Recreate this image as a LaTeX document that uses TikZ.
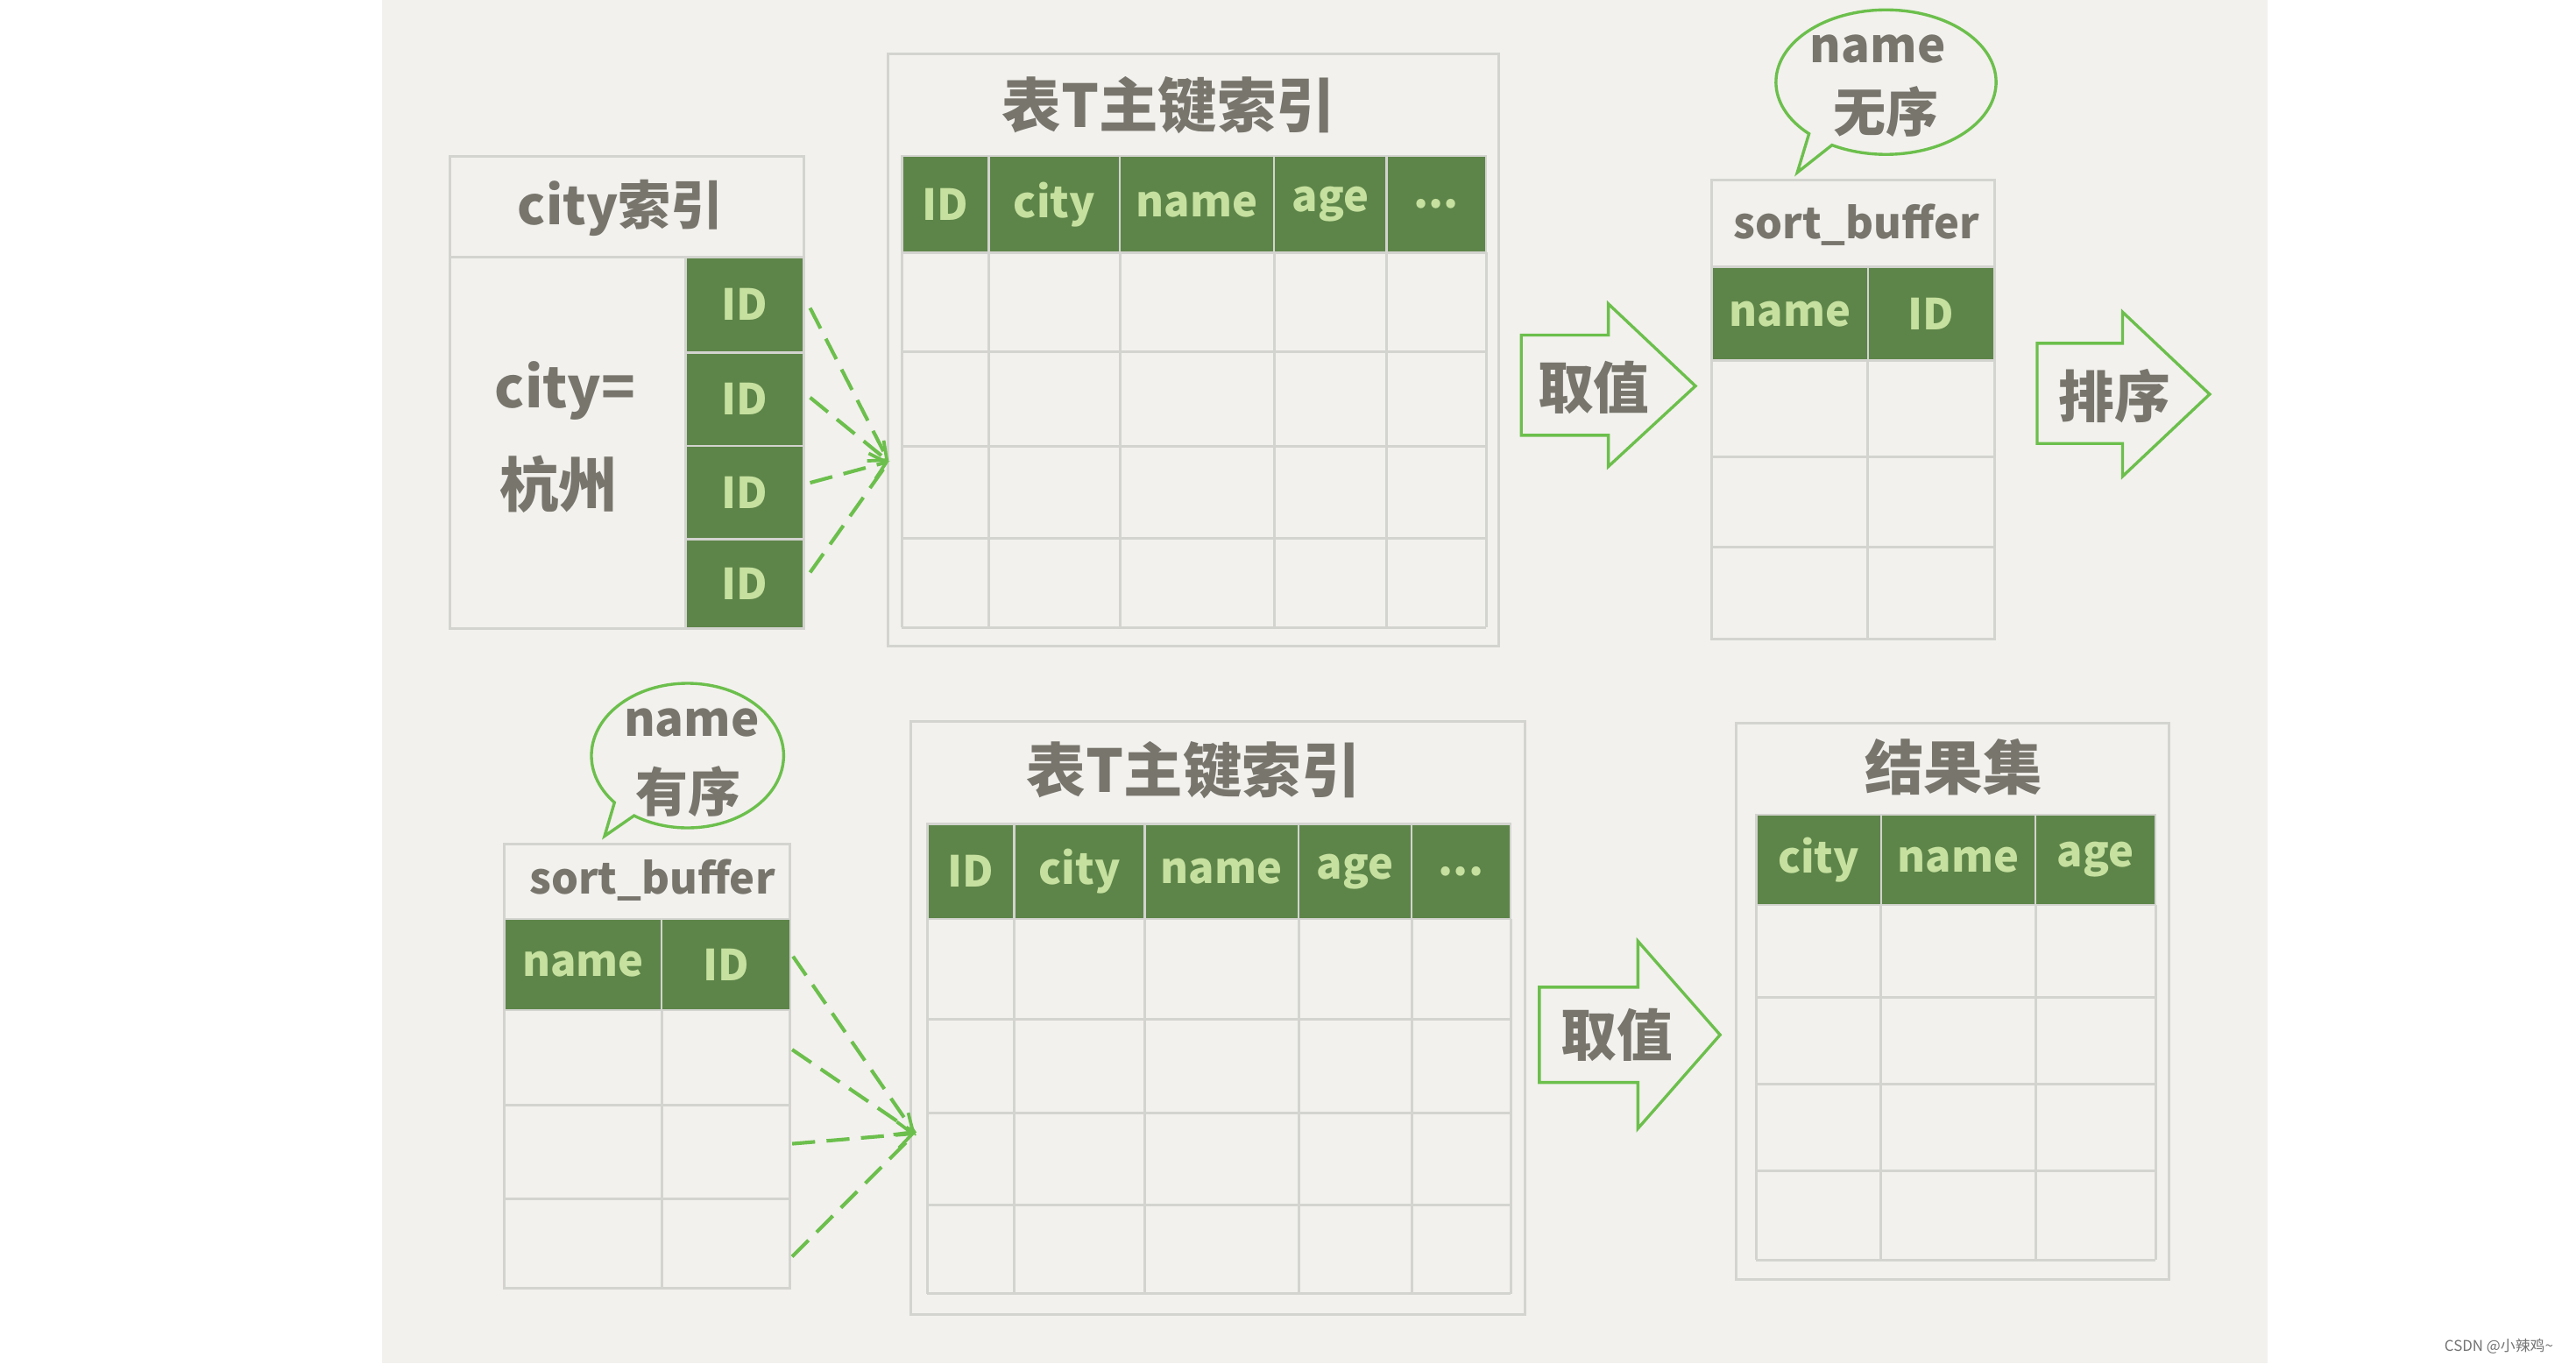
\documentclass[tikz,border=0pt]{standalone}
\usepackage{fontspec}
\setmainfont{Noto Sans CJK SC}
\usetikzlibrary{arrows.meta}
\definecolor{bgc}{HTML}{F2F1ED}
\definecolor{gridc}{HTML}{D3D3CF}
\definecolor{hdrc}{HTML}{5D8549}
\definecolor{hdrtxt}{HTML}{C6E0A0}
\definecolor{txtc}{HTML}{77756C}
\definecolor{grn}{HTML}{6CBF4C}
\newcommand\myfs[1]{\fontsize{#1}{#1}\selectfont\bfseries}
\newcommand\mydots{...}
\tikzset{
  gridline/.style={draw=gridc, line width=1.6pt},
  hcell/.style={fill=hdrc, draw=gridc, line width=1.4pt, text=hdrtxt, font=\myfs{26}, inner sep=0pt},
  plaincell/.style={draw=none, inner sep=0pt},
  lbl/.style={text=txtc, inner sep=0pt},
  barrow/.style={draw=grn, line width=1.8pt, fill=bgc, line join=miter},
  bub/.style={draw=grn, line width=1.8pt, fill=bgc},
  dlink/.style={draw=grn, line width=2.2pt, dash pattern=on 14pt off 7pt},
  tiplink/.style={dlink, -{Straight Barb[length=9pt,width=16pt,line width=2pt]}},
}
\begin{document}
\begin{tikzpicture}[x=1pt,y=-1pt]
\useasboundingbox (0,0) rectangle (1568,830);
\fill[white] (0,0) rectangle (1568,830);
\fill[bgc] (232.5,0) rectangle (1380.3,830);

%% ---------- top: city index ----------
\draw[gridline] (273.6,95) rectangle (489.4,382.6);
\draw[gridline] (273.6,156.4) -- (489.4,156.4);
\node[lbl, font=\myfs{32}] (cityidx) at (377.7,126.7) {city索引};
\node[lbl, font=\myfs{34}] (cityeq) at (344,238) {city=};
\node[lbl, font=\myfs{36}] (hz) at (340,295) {杭州};
\node[hcell, minimum width=72pt, minimum height=58pt] (id1) at (453.4,185.5) {ID};
\node[hcell, minimum width=72pt, minimum height=57pt] (id2) at (453.4,243) {ID};
\node[hcell, minimum width=72pt, minimum height=56.8pt] (id3) at (453.4,299.9) {ID};
\node[hcell, minimum width=72pt, minimum height=54.3pt] (id4) at (453.4,355.5) {ID};

%% ---------- top: table T primary index ----------
\draw[gridline] (540.3,33) rectangle (912.5,393.5);
\node[lbl, font=\myfs{36}] (ttitleA) at (711.4,64) {表T主键索引};
\foreach \a/\b/\t [count=\i] in {549/602/ID,602/681.6/city,681.6/775.5/name,775.5/844/age,844/904.6/\mydots}
  \node[hcell, minimum width={(\b-\a)*1pt}, minimum height=58.8pt] (ta\i) at ({(\a+\b)/2},124.4) {\t};
\foreach \y in {214,271.5,327.8,382} \draw[gridline] (549,\y) -- (904.6,\y);
\foreach \x in {549,602,681.6,775.5,844,904.6} \draw[gridline] (\x,153.8) -- (\x,382);
\coordinate (tgtA) at (541,281);

\draw[dlink] ([xshift=3pt,yshift=-2pt]id1.east) -- (tgtA);
\draw[tiplink] ([xshift=3pt,yshift=1pt]id2.east) -- (tgtA);
\draw[tiplink] ([xshift=3pt,yshift=6pt]id3.east) -- (tgtA);
\draw[dlink] ([xshift=3pt,yshift=7pt]id4.east) -- (tgtA);

%% ---------- top arrow 取值 ----------
\draw[barrow] (926,204) -- (979,204) -- (979,185) -- (1032,235) -- (979,284) -- (979,265) -- (926,265) -- cycle;
\node[lbl, font=\myfs{34}] (quzhiA) at (970,236) {取值};

%% ---------- top sort_buffer ----------
\draw[gridline] (1042,109.5) rectangle (1214,389);
\node[lbl, font=\myfs{26}] (sbA) at (1130,137) {sort\_buffer};
\node[hcell, minimum width=95pt, minimum height=57pt] (sbAname) at (1089.5,191) {name};
\node[hcell, minimum width=77pt, minimum height=57pt] (sbAid) at (1175.5,191) {ID};
\foreach \y in {278,333} \draw[gridline] (1042,\y) -- (1214,\y);
\draw[gridline] (1137,220) -- (1137,389);

%% bubble: name 无序
\draw[bub] ([shift={(134.4:67 and 44)}]1148,50) arc[start angle=134.4, end angle=479.4, x radius=67, y radius=44] -- (1094,105) -- cycle;
\node[lbl, font=\myfs{29}] (bubA1) at (1143,30) {name};
\node[lbl, font=\myfs{32}] (bubA2) at (1148,68) {无序};

%% ---------- arrow 排序 ----------
\draw[barrow] (1240,209) -- (1292,209) -- (1292,190) -- (1345,240) -- (1292,290) -- (1292,270) -- (1240,270) -- cycle;
\node[lbl, font=\myfs{34}] (paixu) at (1287,241) {排序};

%% ---------- bottom: sort_buffer ----------
\draw[gridline] (307,513.6) rectangle (481,784.5);
\node[lbl, font=\myfs{26}] (sbB) at (397,536) {sort\_buffer};
\node[hcell, minimum width=95.7pt, minimum height=55.5pt] (sbBname) at (354.85,587.25) {name};
\node[hcell, minimum width=78.3pt, minimum height=55.5pt] (sbBid) at (441.85,587.25) {ID};
\foreach \y in {673,729.6} \draw[gridline] (307,\y) -- (481,\y);
\draw[gridline] (402.7,615) -- (402.7,784.5);
\node[plaincell, minimum width=78.3pt, minimum height=58pt] (br1) at (441.85,644) {};
\node[plaincell, minimum width=78.3pt, minimum height=56.6pt] (br2) at (441.85,701.3) {};
\node[plaincell, minimum width=78.3pt, minimum height=54.9pt] (br3) at (441.85,757) {};

%% bubble: name 有序
\draw[bub] ([shift={(139.5:58.5 and 44)}]418.5,460) arc[start angle=139.5, end angle=483.8, x radius=58.5, y radius=44] -- (368,509) -- cycle;
\node[lbl, font=\myfs{29}] (bubB1) at (421,440) {name};
\node[lbl, font=\myfs{32}] (bubB2) at (419,482) {有序};

%% ---------- bottom: table T primary index ----------
\draw[gridline] (554.5,439) rectangle (928,800);
\node[lbl, font=\myfs{36}] (ttitleB) at (726.5,469) {表T主键索引};
\foreach \a/\b/\t [count=\i] in {564.5/617.3/ID,617.3/696.8/city,696.8/790.4/name,790.4/859.2/age,859.2/919.5/\mydots}
  \node[hcell, minimum width={(\b-\a)*1pt}, minimum height=58pt] (tb\i) at ({(\a+\b)/2},530.5) {\t};
\foreach \y in {620.6,677.4,733.7,787.6} \draw[gridline] (564.5,\y) -- (919.5,\y);
\foreach \x in {564.5,617.3,696.8,790.4,859.2,919.5} \draw[gridline] (\x,559.5) -- (\x,787.6);
\coordinate (tgtB) at (557,690);

\draw[dlink] ([xshift=1pt,yshift=5pt]sbBid.east) -- (tgtB);
\draw[tiplink] ([xshift=1pt,yshift=5pt]br1.east) -- (tgtB);
\draw[tiplink] ([xshift=1pt,yshift=5pt]br2.east) -- (tgtB);
\draw[dlink] ([xshift=1pt,yshift=-8pt]br3.east) -- (tgtB);

%% ---------- bottom arrow 取值 ----------
\draw[barrow] (937,601) -- (997,601) -- (997,573) -- (1047,630) -- (997,687) -- (997,659) -- (937,659) -- cycle;
\node[lbl, font=\myfs{34}] (quzhiB) at (984,630) {取值};

%% ---------- result set ----------
\draw[gridline] (1057,440) rectangle (1320,779);
\node[lbl, font=\myfs{36}] (jgj) at (1189,467) {结果集};
\foreach \a/\b/\t [count=\i] in {1069/1145/city,1145/1239/name,1239/1312/age}
  \node[hcell, minimum width={(\b-\a)*1pt}, minimum height=55pt] (rs\i) at ({(\a+\b)/2},523.5) {\t};
\foreach \y in {607,660,713,767} \draw[gridline] (1069,\y) -- (1312,\y);
\foreach \x in {1069,1145,1239,1312} \draw[gridline] (\x,551) -- (\x,767);

%% watermark
\node[inner sep=0pt, text=black!55, font=\fontsize{9}{9}\selectfont] (wm) at (1521,819.5) {CSDN @小辣鸡\textasciitilde};
\end{tikzpicture}
\end{document}
